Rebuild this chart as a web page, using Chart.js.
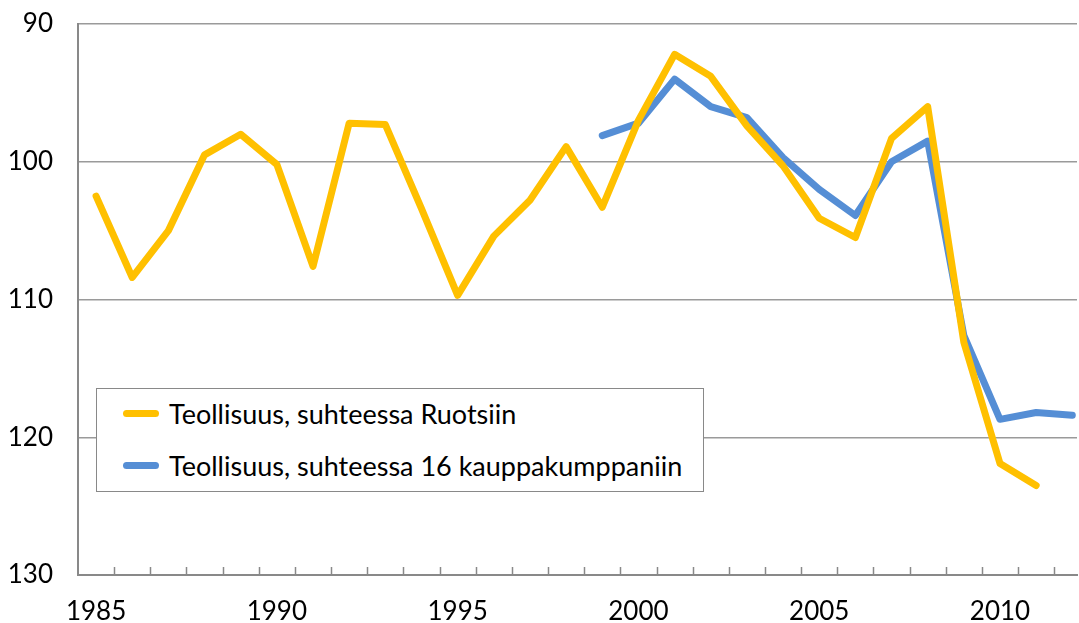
<!DOCTYPE html>
<html>
<head>
<meta charset="utf-8">
<script src="https://cdn.jsdelivr.net/npm/chart.js@4/dist/chart.umd.min.js"></script>
<style>
    html, body { margin: 0; padding: 0; background: #fff; }
    #wrap { position: relative; width: 1079px; height: 623px; }
    #legend {
        position: absolute; left: 96px; top: 388px; width: 606px; height: 102px;
        background: #fff; border: 1px solid #898989;
        font-family: Lato, sans-serif; font-size: 27px; color: #000;
    }
    .item { position: absolute; left: 26px; display: flex; align-items: center; }
    .swatch { display: inline-block; width: 36px; height: 7px; border-radius: 4px; margin-right: 10px; }
</style>
</head>
<body>
<div id="wrap">
    <canvas id="chart"></canvas>
    <div id="legend"></div>
</div>
<script>
// Data
const years = [1985, 1986, 1987, 1988, 1989, 1990, 1991, 1992, 1993, 1994, 1995, 1996, 1997, 1998,
    1999, 2000, 2001, 2002, 2003, 2004, 2005, 2006, 2007, 2008, 2009, 2010, 2011, 2012];
const swedenValues = [102.5, 108.4, 105.0, 99.5, 98.0, 100.2, 107.6, 97.2, 97.3, 103.4, 109.7, 105.4, 102.8, 98.9,
    103.3, 97.0, 92.2, 93.8, 97.4, 100.3, 104.1, 105.5, 98.3, 96.0, 113.1, 121.9, 123.5, null];
const partnersValues = [null, null, null, null, null, null, null, null, null, null, null, null, null, null,
    98.1, 97.2, 94.0, 96.0, 96.8, 99.7, 102.0, 103.9, 100.0, 98.5, 112.6, 118.7, 118.2, 118.4];
const seriesLabels = ['Teollisuus, suhteessa Ruotsiin', 'Teollisuus, suhteessa 16 kauppakumppaniin'];
const seriesColors = ['#FFC000', '#558ED5'];
const yTicks = [90, 100, 110, 120, 130];

const toPoints = vals => years.map((y, i) => ({ x: y, y: vals[i] }));

// small tick marks pointing up from the x axis, between years
const innerTicks = {
    id: 'innerTicks',
    beforeDatasetsDraw(chart) {
        const x = chart.scales.x, ctx = chart.ctx;
        const bottom = chart.chartArea.bottom;
        ctx.save();
        ctx.strokeStyle = '#898989';
        ctx.lineWidth = 1.5;
        x.ticks.forEach(t => {
            if (t.value % 1 === 0) return;
            const px = Math.round(x.getPixelForValue(t.value)) + 0.5;
            ctx.beginPath();
            ctx.moveTo(px, bottom);
            ctx.lineTo(px, bottom - 8);
            ctx.stroke();
        });
        ctx.restore();
    }
};

const ctx = document.getElementById('chart').getContext('2d');
const chart = new Chart(ctx, {
    type: 'line',
    data: {
        datasets: [
            {
                label: seriesLabels[0],
                data: toPoints(swedenValues),
                borderColor: seriesColors[0],
                backgroundColor: seriesColors[0],
                borderWidth: 7,
                pointRadius: 0,
                borderCapStyle: 'round',
                borderJoinStyle: 'round',
                tension: 0
            },
            {
                label: seriesLabels[1],
                data: toPoints(partnersValues),
                borderColor: seriesColors[1],
                backgroundColor: seriesColors[1],
                borderWidth: 7,
                pointRadius: 0,
                borderCapStyle: 'round',
                borderJoinStyle: 'round',
                tension: 0
            }
        ]
    },
    options: {
        responsive: true,
        maintainAspectRatio: false,
        animation: false,
        layout: { padding: { top: 24, right: 2, left: 0, bottom: 0 } },
        plugins: {
            legend: { display: false },
            tooltip: { enabled: false }
        },
        scales: {
            x: {
                type: 'linear',
                min: 1984.5,
                max: 2012.13,
                afterBuildTicks: scale => {
                    const ticks = [];
                    for (let v = 1985; v <= 2012; v++) {
                        ticks.push({ value: v });
                        if (v + 0.5 < 2012.13) ticks.push({ value: v + 0.5 });
                    }
                    scale.ticks = ticks;
                },
                afterFit: scale => {
                    scale.height = 48;
                    scale.paddingLeft = 0;
                    scale.paddingRight = 0;
                },
                grid: { display: false, drawTicks: false },
                border: { display: true, color: '#898989', width: 2 },
                ticks: {
                    autoSkip: false,
                    maxRotation: 0,
                    padding: 21,
                    color: '#000',
                    font: { family: 'Lato', size: 26 },
                    callback: v => (v % 5 === 0 ? String(v) : '')
                }
            },
            y: {
                reverse: true,
                min: 90,
                max: 130,
                afterBuildTicks: scale => { scale.ticks = yTicks.map(v => ({ value: v })); },
                afterFit: scale => {
                    scale.width = 78;
                    scale.paddingTop = 0;
                    scale.paddingBottom = 0;
                },
                grid: {
                    color: '#9a9a9a',
                    lineWidth: 1.5,
                    drawTicks: false
                },
                border: { display: true, color: '#898989', width: 2 },
                ticks: {
                    padding: 25,
                    color: '#000',
                    font: { family: 'Lato', size: 26 }
                }
            }
        }
    },
    plugins: [innerTicks]
});

// legend box inside the plot
const legend = document.getElementById('legend');
chart.data.datasets.forEach((ds, i) => {
    const item = document.createElement('div');
    item.className = 'item';
    item.style.top = (i === 0 ? 8 : 60) + 'px';
    item.innerHTML = '<span class="swatch" style="background:' + ds.borderColor + '"></span><span>' + ds.label + '</span>';
    legend.appendChild(item);
});
</script>
</body>
</html>
